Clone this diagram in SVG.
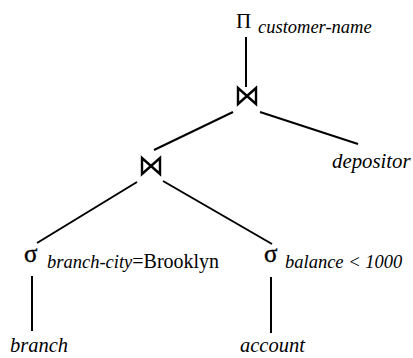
<svg xmlns="http://www.w3.org/2000/svg" width="413" height="358" viewBox="0 0 413 358">
<style>
.op{font-family:"Liberation Serif","Times New Roman",serif;font-size:25px;fill:#000;stroke:#000;stroke-width:0.4}
.pi{font-family:"Liberation Serif","Times New Roman",serif;font-size:21px;fill:#000}
.it{font-family:"Liberation Serif","Times New Roman",serif;font-style:italic;font-size:18.5px;fill:#000}
.rm{font-family:"Liberation Serif","Times New Roman",serif;font-size:20px;fill:#000}
.rel{font-family:"Liberation Serif","Times New Roman",serif;font-style:italic;font-size:20.5px;fill:#000}
.dep{font-size:20.8px}
.ln{stroke:#000;stroke-width:2;fill:none}
.bt{stroke:#000;stroke-width:2.4;fill:none;stroke-linejoin:miter}
</style>
<defs>
<path id="bowtie" d="M-9,-8 L-9,8 L9,-8 L9,8 Z"/>
</defs>
<g id="connectors">
<line class="ln" x1="246" y1="37" x2="246" y2="87"/>
<line class="ln" x1="233" y1="112" x2="154" y2="150"/>
<line class="ln" x1="260" y1="112" x2="358" y2="144"/>
<line class="ln" x1="137" y1="182" x2="37" y2="243"/>
<line class="ln" x1="163" y1="181" x2="272" y2="244"/>
<line class="ln" x1="32" y1="276" x2="32" y2="331"/>
<line class="ln" x1="271" y1="277" x2="271" y2="333"/>
</g>
<g id="project">
<text class="pi" x="236" y="28">Π</text>
<text class="it" x="258" y="33">customer-name</text>
</g>
<g id="join1">
<use href="#bowtie" class="bt" x="247" y="96"/>
</g>
<g id="depositor">
<text class="rel dep" x="332" y="168">depositor</text>
</g>
<g id="join2">
<use href="#bowtie" class="bt" x="151" y="166"/>
</g>
<g id="select-branch">
<text class="op" x="24" y="262">σ</text>
<text x="47" y="268"><tspan class="it">branch-city</tspan><tspan class="rm">=Brooklyn</tspan></text>
</g>
<g id="select-balance">
<text class="op" x="264" y="262">σ</text>
<text class="it" x="285" y="268">balance &lt; 1000</text>
</g>
<g id="branch">
<text class="rel" x="10" y="352">branch</text>
</g>
<g id="account">
<text class="rel" x="240" y="352">account</text>
</g>
</svg>
